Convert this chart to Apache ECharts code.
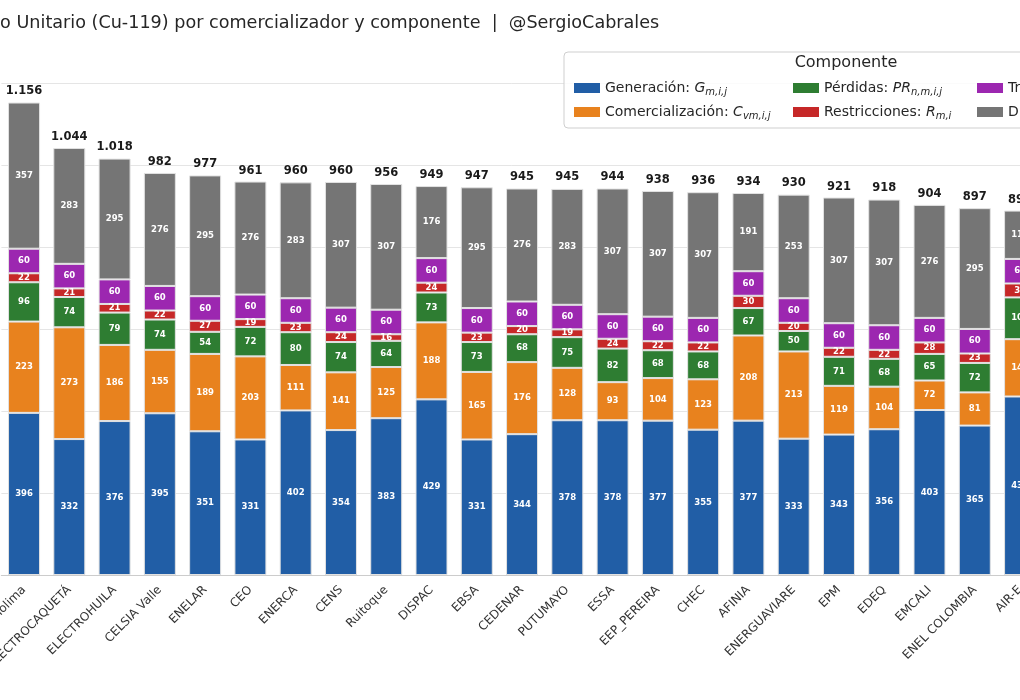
<!DOCTYPE html>
<html>
<head>
<meta charset="utf-8">
<title>Costo Unitario (Cu-119)</title>
<script src="https://cdn.jsdelivr.net/npm/echarts@6/dist/echarts.min.js"></script>
<style>
  html, body { margin: 0; padding: 0; background: #fff; }
  #chart { width: 1020px; height: 700px; }
</style>
</head>
<body>
<div id="chart"></div>
<script>
// comercializadores, ordered by total Cu
var comercializadores = ['CELSIA Tolima', 'ELECTROCAQUETÁ', 'ELECTROHUILA', 'CELSIA Valle', 'ENELAR', 'CEO',
    'ENERCA', 'CENS', 'Ruitoque', 'DISPAC', 'EBSA', 'CEDENAR', 'PUTUMAYO', 'ESSA', 'EEP_PEREIRA', 'CHEC',
    'AFINIA', 'ENERGUAVIARE', 'EPM', 'EDEQ', 'EMCALI', 'ENEL COLOMBIA', 'AIR-E'];

// components ($/kWh), bottom to top
var generacion       = [396, 332, 376, 395, 351, 331, 402, 354, 383, 429, 331, 344, 378, 378, 377, 355, 377, 333, 343, 356, 403, 365, 436];
var comercializacion = [223, 273, 186, 155, 189, 203, 111, 141, 125, 188, 165, 176, 128,  93, 104, 123, 208, 213, 119, 104,  72,  81, 140];
var perdidas         = [ 96,  74,  79,  74,  54,  72,  80,  74,  64,  73,  73,  68,  75,  82,  68,  68,  67,  50,  71,  68,  65,  72, 102];
var restricciones    = [ 22,  21,  21,  22,  27,  19,  23,  24,  16,  24,  23,  20,  19,  24,  22,  22,  30,  20,  22,  22,  28,  23,  34];
var transmision      = [ 60,  60,  60,  60,  60,  60,  60,  60,  60,  60,  60,  60,  60,  60,  60,  60,  60,  60,  60,  60,  60,  60,  60];
var distribucion     = [357, 283, 295, 276, 295, 276, 283, 307, 307, 176, 295, 276, 283, 307, 307, 307, 191, 253, 307, 307, 276, 295, 118];
var totales          = [1156, 1044, 1018, 982, 977, 961, 960, 960, 956, 949, 947, 945, 945, 944, 938, 936, 934, 930, 921, 918, 904, 897, 890];

var yTicks = [0, 200, 400, 600, 800, 1000, 1200];

var componentes = [
    { name: 'Generación',       sym: 'G',  sub: 'm,i,j',   color: '#215ea6', data: generacion },
    { name: 'Comercialización', sym: 'C',  sub: 'vm,i,j',  color: '#e8821e', data: comercializacion },
    { name: 'Pérdidas',         sym: 'PR', sub: 'n,m,i,j', color: '#2e7d32', data: perdidas },
    { name: 'Restricciones',    sym: 'R',  sub: 'm,i',     color: '#c62828', data: restricciones },
    { name: 'Transmisión',      sym: 'T',  sub: 'm',       color: '#9c27b0', data: transmision },
    { name: 'Distribución',     sym: 'D',  sub: 'n,m',     color: '#757575', data: distribucion }
];

;(function () {

    'use strict';

    var fmtMiles = function (v) {
        var s = String(Math.round(v));
        return s.replace(/\B(?=(\d{3})+(?!\d))/g, '.');
    };

    var legendText = function (name) {
        for (var i = 0; i < componentes.length; i++) {
            if (componentes[i].name === name) {
                return name + ': {it|' + componentes[i].sym + '}{sub|' + componentes[i].sub + '}';
            }
        }
        return name;
    };

    var makeLegend = function (names, left) {
        return {
            data: names,
            orient: 'vertical',
            left: left,
            top: 76,
            itemWidth: 26,
            itemHeight: 10,
            itemGap: 8,
            icon: 'rect',
            selectedMode: false,
            formatter: legendText,
            itemStyle: { borderWidth: 0 },
            textStyle: {
                fontFamily: 'DejaVu Sans',
                fontSize: 14,
                color: '#262626',
                padding: [0, 0, 0, 0],
                rich: {
                    it: { fontFamily: 'DejaVu Sans', fontSize: 14, fontStyle: 'italic', color: '#262626' },
                    sub: { fontFamily: 'DejaVu Sans', fontSize: 10, fontStyle: 'italic', color: '#262626', padding: [8, 0, 0, 0] }
                }
            }
        };
    };

    var buildSeries = function () {
        var series = componentes.map(function (c) {
            return {
                name: c.name,
                type: 'bar',
                stack: 'cu',
                barWidth: 32,
                data: c.data,
                itemStyle: { color: c.color, borderColor: '#e2e2e2', borderWidth: 1 },
                label: {
                    show: true,
                    position: 'inside',
                    color: '#fff',
                    fontFamily: 'DejaVu Sans',
                    fontWeight: 'bold',
                    fontSize: 8.5
                },
                emphasis: { disabled: true }
            };
        });
        series.push({
            name: 'Total',
            type: 'scatter',
            data: totales,
            symbolSize: 0,
            z: 5,
            itemStyle: { opacity: 1 },
            label: {
                show: true,
                position: 'top',
                distance: 5,
                color: '#1a1a1a',
                fontFamily: 'DejaVu Sans',
                fontWeight: 'bold',
                fontSize: 11.5,
                formatter: function (p) { return fmtMiles(p.value); }
            },
            emphasis: { disabled: true }
        });
        return series;
    };

    var cuChart = function () {
        var myChart = echarts.init(document.getElementById('chart'), null, { renderer: 'canvas' });

        var option = {
            backgroundColor: '#fff',
            animation: false,
            title: {
                text: 'Costo Unitario (Cu-119) por comercializador y componente  |  @SergioCabrales',
                left: -44,
                top: 9,
                textStyle: { fontFamily: 'DejaVu Sans', fontSize: 17.6, fontWeight: 'normal', color: '#262626' }
            },
            legend: [
                makeLegend(['Generación', 'Comercialización'], 569),
                makeLegend(['Pérdidas', 'Restricciones'], 788),
                makeLegend(['Transmisión', 'Distribución'], 972)
            ],
            graphic: [
                {
                    type: 'rect',
                    z: 3,
                    shape: { x: 564, y: 52, width: 560, height: 76, r: 4 },
                    style: { fill: 'rgba(255,255,255,0.85)', stroke: '#cfcfcf', lineWidth: 1 }
                },
                {
                    type: 'text',
                    z: 4,
                    x: 846,
                    y: 63,
                    style: {
                        text: 'Componente',
                        fontFamily: 'DejaVu Sans',
                        fontSize: 16,
                        fill: '#262626',
                        textAlign: 'center',
                        textVerticalAlign: 'middle'
                    }
                }
            ],
            grid: { left: 1.4, right: -22.7, top: 83.7, bottom: 125, outerBoundsMode: 'none' },
            xAxis: {
                type: 'category',
                data: comercializadores,
                axisLine: { lineStyle: { color: '#cccccc', width: 1.2 } },
                axisTick: { alignWithLabel: true, length: 4, lineStyle: { color: '#444' } },
                axisLabel: {
                    interval: 0,
                    rotate: 45,
                    margin: 13,
                    fontFamily: 'DejaVu Sans',
                    fontSize: 12,
                    color: '#333'
                }
            },
            yAxis: {
                type: 'value',
                min: yTicks[0],
                max: yTicks[yTicks.length - 1],
                interval: yTicks[1] - yTicks[0],
                axisLabel: { show: false },
                axisLine: { show: false },
                axisTick: { show: false },
                splitLine: { lineStyle: { color: '#e5e5e5', width: 1 } }
            },
            series: buildSeries()
        };
        myChart.setOption(option);
    };

    cuChart();

}());
</script>
</body>
</html>
